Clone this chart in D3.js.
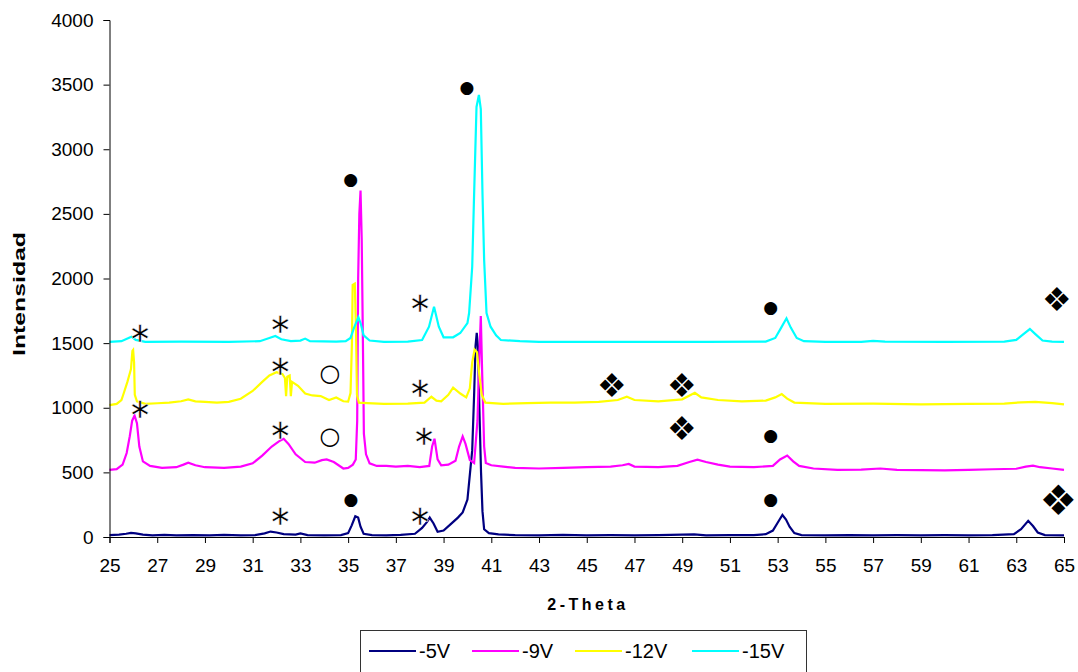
<!DOCTYPE html>
<html>
<head>
<meta charset="utf-8">
<script src="https://cdn.jsdelivr.net/npm/d3@7"></script>
<style>
  html, body { margin: 0; padding: 0; background: #fff; }
  svg { display: block; }
  text { font-family: "Liberation Sans", Arial, sans-serif; }
</style>
</head>
<body>
<svg id="chart" width="1078" height="672"></svg>
<script>
// ---------- DATA (2-theta, intensity) ----------
const seriesNames = ["-5V", "-9V", "-12V", "-15V"];
const seriesColors = ["#000080", "#FF00FF", "#FFFF00", "#00FFFF"];

const s5V = [[25,15],[25.4,18],[25.7,25],[25.9,32],[26.1,28],[26.4,18],[26.8,12],[27.3,16],[27.8,13],[28.5,15],[29.2,12],[29.8,16],[30.5,12],[31.1,15],[31.5,28],[31.75,42],[32.0,35],[32.3,22],[32.8,18],[33.0,28],[33.3,15],[34,12],[34.7,15],[35.0,30],[35.15,90],[35.3,160],[35.42,150],[35.52,80],[35.65,25],[36,15],[36.6,12],[37.2,16],[37.8,25],[38.1,70],[38.3,115],[38.42,150],[38.58,105],[38.75,40],[39.0,50],[39.3,100],[39.6,150],[39.8,190],[40.0,290],[40.1,480],[40.2,670],[40.28,1100],[40.34,1480],[40.39,1580],[40.45,1450],[40.5,1000],[40.57,500],[40.63,200],[40.7,60],[40.9,30],[41.3,20],[42,15],[43,12],[44,16],[45,12],[46,14],[47,12],[48,15],[49.5,20],[50,12],[51,14],[52,14],[52.5,22],[52.8,50],[53.0,110],[53.2,170],[53.35,135],[53.5,80],[53.7,30],[54,15],[55,12],[56,15],[57,12],[58,14],[59,12],[60,14],[61,12],[62,14],[62.9,22],[63.2,60],[63.5,125],[63.7,85],[63.9,35],[64.2,15],[65,12]];

const s9V = [[25,520],[25.3,525],[25.55,560],[25.72,650],[25.85,780],[25.95,900],[26.05,940],[26.15,880],[26.25,700],[26.4,585],[26.7,550],[27.2,535],[27.8,540],[28.1,560],[28.3,575],[28.6,555],[29,540],[29.8,535],[30.5,545],[31,570],[31.4,630],[31.8,700],[32.1,740],[32.3,760],[32.5,720],[32.8,640],[33.2,580],[33.6,575],[33.9,595],[34.1,600],[34.4,580],[34.8,530],[35.0,535],[35.2,560],[35.32,600],[35.38,900],[35.42,2000],[35.47,2500],[35.52,2680],[35.57,2300],[35.62,1500],[35.66,800],[35.75,640],[35.9,570],[36.2,550],[36.6,550],[37,545],[37.5,550],[38,540],[38.4,550],[38.52,700],[38.62,760],[38.75,600],[38.9,555],[39.2,560],[39.5,590],[39.65,700],[39.8,778],[39.92,720],[40.1,595],[40.28,572],[40.42,900],[40.5,1400],[40.56,1710],[40.62,1250],[40.7,700],[40.77,572],[41.0,555],[41.5,545],[42,535],[43,530],[44,535],[45,540],[46,545],[46.5,555],[46.76,565],[47.0,545],[48,540],[48.8,550],[49.3,580],[49.64,598],[50,580],[50.5,560],[51,545],[52,540],[52.8,550],[53.1,600],[53.4,630],[53.65,585],[53.9,550],[54.5,530],[55.5,520],[56.5,522],[57.3,530],[58,520],[59,518],[60,515],[61,520],[62,524],[63,528],[63.4,545],[63.7,552],[64,540],[64.5,530],[65,520]];

const s12V = [[25,1020],[25.3,1030],[25.5,1060],[25.6,1114],[25.75,1200],[25.81,1240],[25.9,1300],[25.96,1440],[25.99,1447],[26.03,1350],[26.06,1100],[26.15,1050],[26.5,1030],[27,1035],[27.5,1040],[28,1050],[28.3,1065],[28.6,1050],[29,1045],[29.5,1040],[30,1045],[30.5,1070],[31,1130],[31.4,1200],[31.7,1250],[32.0,1275],[32.25,1260],[32.35,1230],[32.4,1090],[32.45,1240],[32.55,1250],[32.6,1090],[32.65,1200],[32.9,1170],[33.2,1110],[33.5,1095],[33.85,1090],[34.2,1060],[34.5,1080],[34.8,1050],[35.0,1047],[35.1,1114],[35.16,1500],[35.19,1950],[35.28,1960],[35.33,1600],[35.37,1100],[35.45,1040],[35.8,1036],[36.5,1030],[37.5,1032],[38.2,1040],[38.49,1085],[38.7,1055],[38.9,1050],[39.2,1100],[39.4,1155],[39.7,1110],[39.95,1080],[40.1,1150],[40.2,1350],[40.3,1450],[40.4,1430],[40.5,1250],[40.6,1100],[40.75,1040],[41.5,1030],[42.5,1036],[43.5,1040],[44.5,1040],[45.5,1045],[46.3,1060],[46.68,1085],[47,1060],[48,1050],[49,1065],[49.53,1116],[49.8,1080],[50.5,1060],[51.5,1050],[52.5,1055],[52.9,1080],[53.17,1106],[53.4,1070],[53.7,1040],[55,1030],[57,1032],[59,1026],[61,1030],[62.5,1032],[63.2,1042],[63.8,1045],[64.5,1036],[65,1026]];

const s15V = [[25,1510],[25.5,1515],[25.8,1540],[25.92,1550],[26.1,1525],[26.5,1510],[28,1512],[30,1510],[31.3,1515],[31.7,1540],[31.95,1555],[32.2,1530],[32.6,1515],[33.0,1520],[33.2,1535],[33.4,1515],[34.5,1512],[34.9,1515],[35.1,1540],[35.25,1620],[35.43,1700],[35.53,1650],[35.65,1560],[35.9,1520],[36.5,1510],[37.5,1512],[38.1,1524],[38.39,1627],[38.6,1782],[38.8,1627],[39.0,1545],[39.4,1545],[39.7,1578],[40.0,1655],[40.07,1733],[40.2,2091],[40.27,2584],[40.38,3327],[40.48,3420],[40.56,3310],[40.63,2661],[40.7,2143],[40.8,1733],[40.97,1627],[41.2,1560],[41.4,1524],[42.2,1515],[43,1510],[46,1510],[50,1510],[52.5,1512],[52.9,1540],[53.15,1620],[53.37,1692],[53.55,1620],[53.8,1540],[54.1,1515],[55,1510],[56.5,1510],[57.0,1518],[57.5,1512],[60,1510],[62.5,1512],[63.0,1525],[63.3,1570],[63.57,1609],[63.8,1570],[64.1,1520],[64.5,1512],[65,1510]];

const seriesData = [s5V, s9V, s12V, s15V];

const xTicks = d3.range(25, 66, 2);
const yTicks = [0, 500, 1000, 1500, 2000, 2500, 3000, 3500, 4000];

// peak annotations: [2-theta, intensity]
const asteriskMarks = [[26.28,1602],[32.15,1666],[32.15,1346],[26.28,1008],[32.15,853],[32.15,186],[38.01,1834],[38.01,1176],[38.18,805],[38.01,186]];
const filledCircleMarks = [[35.11,2770],[39.98,3484],[52.71,1782],[52.71,789],[52.71,294],[35.12,294]];
const openCircleMarks = [[34.24,1274],[34.24,783]];
const diamondMarks = [[46.05,1176],[48.98,1176],[48.98,841],[64.70,1839]];
const bigDiamondMarks = [[64.76,286]];

// ---------- CHART ----------
const svg = d3.select("#chart");
const x = d3.scaleLinear().domain([25, 65]).range([109.5, 1064]);
const y = d3.scaleLinear().domain([0, 4000]).range([537, 20]);

const line = d3.line().x(d => x(d[0])).y(d => y(d[1]));

const g = svg.append("g");
seriesData.forEach((data, i) => {
  g.append("path")
    .datum(data)
    .attr("fill", "none")
    .attr("stroke", seriesColors[i])
    .attr("stroke-width", 2.2)
    .attr("stroke-linejoin", "miter")
    .attr("d", line);
});

// axes
const xAxis = svg.append("g")
  .attr("transform", "translate(0,537)")
  .call(d3.axisBottom(x).tickValues(xTicks).tickFormat(d3.format("d")).tickSize(6).tickPadding(16));
const yAxis = svg.append("g")
  .attr("transform", "translate(109.5,0)")
  .call(d3.axisLeft(y).tickValues(yTicks).tickFormat(d3.format("d")).tickSize(6).tickPadding(10));
[xAxis, yAxis].forEach(a => {
  a.selectAll("path, line").attr("stroke", "#000").attr("stroke-width", 1);
  a.selectAll("text").attr("fill", "#000").style("font-size", "19px")
    .style("font-family", '"Liberation Sans", Arial, sans-serif');
});

// axis titles
svg.append("text")
  .attr("transform", "translate(25,294) rotate(-90)")
  .attr("x", -62).attr("y", 0)
  .attr("textLength", 124)
  .attr("lengthAdjust", "spacingAndGlyphs")
  .style("font-size", "16px").style("font-weight", "bold")
  .text("Intensidad");
svg.append("text")
  .attr("x", 588).attr("y", 610)
  .attr("text-anchor", "middle")
  .style("font-size", "16px").style("font-weight", "bold")
  .style("letter-spacing", "3.5px")
  .text("2-Theta");

// annotations
const mg = svg.append("g");
function marks(arr, glyph, size, font, dy, thin) {
  const t = mg.selectAll(null).data(arr).enter().append("text")
    .attr("x", d => x(d[0])).attr("y", d => y(d[1]))
    .attr("dy", dy)
    .attr("text-anchor", "middle")
    .style("font-family", font)
    .style("font-size", size + "px")
    .attr("fill", "#000")
    .text(glyph);
  if (thin) t.attr("stroke", "#fff").attr("stroke-width", thin);
}
marks(asteriskMarks, "∗", 28, '"DejaVu Sans"', "0.42em", 0.5);
marks(filledCircleMarks, "●", 17, '"DejaVu Sans"', "0.35em");
marks(openCircleMarks, "○", 24, '"DejaVu Sans"', "0.35em");
marks(diamondMarks, "❖", 33, '"DejaVu Sans"', "0.35em");
marks(bigDiamondMarks, "❖", 42, '"DejaVu Sans"', "0.35em");

// legend
const leg = svg.append("g");
leg.append("rect").attr("x", 360.5).attr("y", 630.5).attr("width", 446).attr("height", 60)
  .attr("fill", "#fff").attr("stroke", "#333").attr("stroke-width", 1);
const legLineX = [369, 472, 575, 692];
seriesNames.forEach((n, i) => {
  leg.append("line").attr("x1", legLineX[i]).attr("x2", legLineX[i] + 47)
    .attr("y1", 651).attr("y2", 651)
    .attr("stroke", seriesColors[i]).attr("stroke-width", 2);
  leg.append("text").attr("x", legLineX[i] + 50).attr("y", 658)
    .style("font-size", "20px").attr("fill", "#000").text(n);
});
</script>
</body>
</html>
